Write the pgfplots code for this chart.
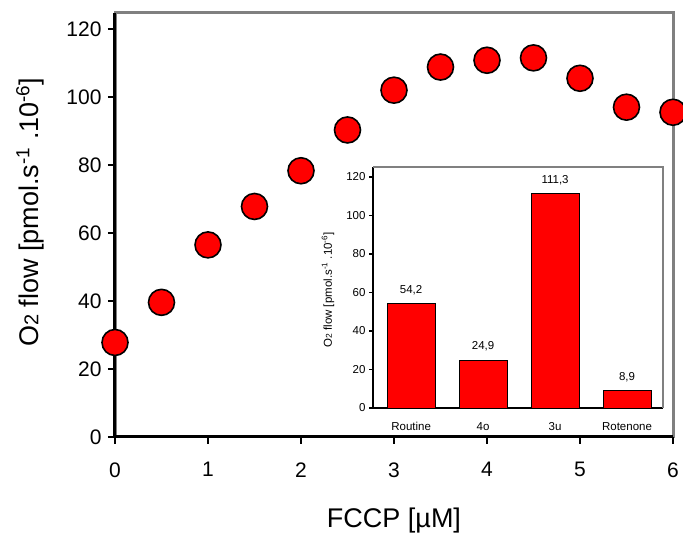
\documentclass[border=0pt]{standalone}
\usepackage{pgfplots}
\pgfplotsset{compat=1.18}
\usepackage{fontspec}
\setmainfont{Liberation Sans}
\definecolor{spinegray}{RGB}{128,128,128}
\begin{document}
\begin{tikzpicture}[x=1pt,y=1pt]
\useasboundingbox (0,0) rectangle (683,534);
% background gray box (top/right spines)
\begin{axis}[at={(115pt,97pt)},anchor=south west,scale only axis,
  width=558pt,height=424pt,xmin=0,xmax=6,ymin=0,ymax=124.7,
  axis line style={spinegray,line width=3pt},
  xtick=\empty,ytick=\empty]
\end{axis}
% main axis
\begin{axis}[at={(115pt,97pt)},anchor=south west,scale only axis,
  width=558pt,height=424pt,xmin=0,xmax=6,ymin=0,ymax=124.7,
  axis lines=left, axis line style={-,black,line width=3pt},
  clip=false,
  xtick={0,1,2,3,4,5,6}, ytick={0,20,40,60,80,100,120},
  tick align=outside, major tick length=7pt,
  tick style={black,line width=2.5pt},
  /pgf/number format/assume math mode=true,
  tick label style={font=\fontsize{21}{25}\selectfont},
  xticklabel style={yshift=-15pt},
  yticklabel style={xshift=-3pt},
]
\addplot[only marks, mark=*, mark size=13pt,
  mark options={fill=red, draw=black, line width=1.6pt}]
  coordinates {(0,27.8) (0.5,39.6) (1,56.5) (1.5,67.8) (2,78.3) (2.5,90.3)
  (3,102) (3.5,108.8) (4,110.8) (4.5,111.5) (5,105.5) (5.5,97) (6,95.5)};
\node[anchor=center,font=\fontsize{27}{31}\selectfont] at (axis description cs:0.5,-0.196) {FCCP [µM]};
\node[anchor=center,rotate=90,font=\fontsize{27}{31}\selectfont] at (axis description cs:-0.152,0.53)
  {O{\fontsize{20}{22}\selectfont 2} flow [pmol.s\textsuperscript{-1} .10\textsuperscript{-6}]};
\end{axis}
% inset
\begin{axis}[at={(373pt,126pt)},anchor=south west,scale only axis,
  width=290pt,height=241pt,xmin=-0.53,xmax=3.5,ymin=0,ymax=125.2,
  axis lines=left, axis line style={-,black,line width=1.3pt},
  ybar, bar width=48pt,
  xtick={0,1,2,3}, xticklabels={Routine,4o,3u,Rotenone},
  x tick style={draw=none},
  ytick={0,20,40,60,80,100,120},
  y tick style={black,line width=1.2pt},
  tick align=outside, major tick length=4pt,
  /pgf/number format/assume math mode=true,
  tick label style={font=\fontsize{11.5}{13}\selectfont},
  xticklabel style={yshift=-7pt},
  nodes near coords,
  nodes near coords style={font=\fontsize{11.5}{13}\selectfont, yshift=5pt,
    /pgf/number format/use comma, /pgf/number format/fixed,
    /pgf/number format/fixed zerofill, /pgf/number format/precision=1},
  clip=false,
]
\draw[spinegray,line width=1.5pt] (rel axis cs:0,1) -- (rel axis cs:1,1) -- (rel axis cs:1,0);
\addplot[fill=red, draw=black, line width=0.8pt] coordinates {(0,54.2) (1,24.9) (2,111.3) (3,8.9)};
\node[anchor=center,rotate=90,font=\fontsize{11.5}{13}\selectfont] at (axis description cs:-0.155,0.49)
  {O{\fontsize{8.5}{10}\selectfont 2} flow [pmol.s\textsuperscript{-1} .10\textsuperscript{-6}]};
\end{axis}
\end{tikzpicture}
\end{document}
